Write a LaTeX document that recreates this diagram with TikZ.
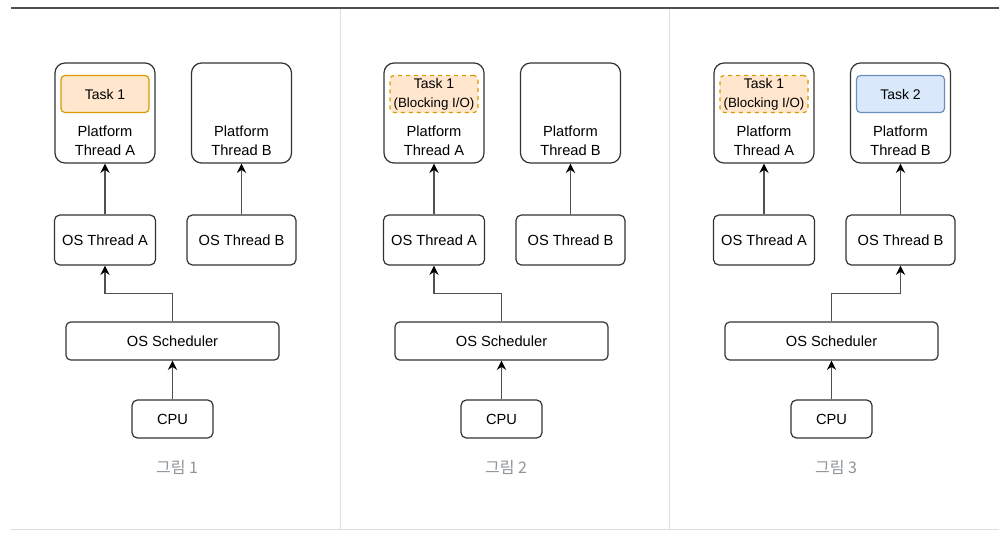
\documentclass[tikz,border=0pt]{standalone}
\usepackage{fontspec}
\setmainfont{Liberation Sans}
\newfontfamily\krfont{Noto Sans CJK KR}
\usepackage{tikz}
\usetikzlibrary{positioning,arrows.meta}
\definecolor{taskfill}{HTML}{FFE6CC}
\definecolor{taskdraw}{HTML}{D79B00}
\definecolor{nextfill}{HTML}{DAE8FC}
\definecolor{nextdraw}{HTML}{6C8EBF}
\definecolor{boxdraw}{HTML}{333333}
\definecolor{linedraw}{HTML}{505050}
\definecolor{capgray}{HTML}{8E949A}
\definecolor{rulegray}{HTML}{DDDDDD}
\definecolor{topgray}{HTML}{505050}

\begin{document}
\begin{tikzpicture}[x=0.75pt, y=-0.75pt, font=\fontsize{11}{14.25}\selectfont,
    box/.style={draw=boxdraw, line width=0.9pt, fill=white, inner sep=0pt, align=center},
    platform/.style={box, rounded corners=7.5pt, minimum width=75pt, minimum height=75pt},
    osthread/.style={box, rounded corners=4pt, minimum height=37.5pt},
    sched/.style={box, rounded corners=3.5pt, minimum width=159.75pt, minimum height=28.5pt},
    cpu/.style={box, rounded corners=4pt, minimum width=60.75pt, minimum height=28.5pt},
    task/.style={box, rounded corners=3pt, minimum width=66pt, minimum height=27.75pt,
        font=\fontsize{10.5}{14}\selectfont},
    running/.style={task, draw=taskdraw, fill=taskfill},
    blocked/.style={task, draw=taskdraw, fill=taskfill, dashed},
    waiting/.style={task, draw=nextdraw, fill=nextfill},
    plabel/.style={align=center, inner sep=0pt},
    caption/.style={font=\krfont\fontsize{12}{14}\selectfont, text=capgray}]
    \useasboundingbox (0,0) rectangle (1006,537);

    % frame
    \draw[line width=1.3pt, topgray] (11,8) -- (999,8);
    \draw[line width=0.75pt, rulegray] (11,529) -- (999,529);
    \draw[line width=0.75pt, rulegray] (340,9) -- (340,529);
    \draw[line width=0.75pt, rulegray] (669,9) -- (669,529);

    % 그림 1
    \node[platform] (PA1) at (105,113) {};
    \node[running] (T1) at (105,94) {Task 1};
    \node[plabel] (LA1) at (105,141) {Platform\\Thread A};
    \node[platform] (PB1) at (241.5,113) {};
    \node[plabel] (LB1) at (241.5,141) {Platform\\Thread B};
    \node[osthread, minimum width=75.75pt] (OA1) at (105,240) {OS Thread A};
    \node[osthread, minimum width=81.75pt] (OB1) at (241.5,240) {OS Thread B};
    \node[sched] (S1) at (172.5,341) {OS Scheduler};
    \node[cpu] (C1) at (172.5,419) {CPU};
    \node[caption] (G1) at (177,467) {그림 1};

    % 그림 2
    \node[platform] (PA2) at (434,113) {};
    \node[blocked] (T2) at (434,94) {Task 1\\{\fontsize{10}{11}\selectfont(Blocking I/O)}};
    \node[plabel] (LA2) at (434,141) {Platform\\Thread A};
    \node[platform] (PB2) at (570.5,113) {};
    \node[plabel] (LB2) at (570.5,141) {Platform\\Thread B};
    \node[osthread, minimum width=75.75pt] (OA2) at (434,240) {OS Thread A};
    \node[osthread, minimum width=81.75pt] (OB2) at (570.5,240) {OS Thread B};
    \node[sched] (S2) at (501.5,341) {OS Scheduler};
    \node[cpu] (C2) at (501.5,419) {CPU};
    \node[caption] (G2) at (506,467) {그림 2};

    % 그림 3
    \node[platform] (PA3) at (764,113) {};
    \node[blocked] (T3) at (764,94) {Task 1\\{\fontsize{10}{11}\selectfont(Blocking I/O)}};
    \node[plabel] (LA3) at (764,141) {Platform\\Thread A};
    \node[platform] (PB3) at (900.5,113) {};
    \node[waiting] (T4) at (900.5,94) {Task 2};
    \node[plabel] (LB3) at (900.5,141) {Platform\\Thread B};
    \node[osthread, minimum width=75.75pt] (OA3) at (764,240) {OS Thread A};
    \node[osthread, minimum width=81.75pt] (OB3) at (900.5,240) {OS Thread B};
    \node[sched] (S3) at (831.5,341) {OS Scheduler};
    \node[cpu] (C3) at (831.5,419) {CPU};
    \node[caption] (G3) at (836,467) {그림 3};

    \begin{scope}[>={Stealth[black, length=7pt, width=7pt]},
                  every edge/.style={draw=linedraw, line width=1.1pt}]
        \path [->] (OA1.north) edge (PA1.south);
        \path [->] (OB1.north) edge (PB1.south);
        \path [->] (C1.north) edge (S1.south);
        \path [->] (S1.north) edge [to path={-- ++(0,-28) -| (\tikztotarget)}] (OA1.south);

        \path [->] (OA2.north) edge (PA2.south);
        \path [->] (OB2.north) edge (PB2.south);
        \path [->] (C2.north) edge (S2.south);
        \path [->] (S2.north) edge [to path={-- ++(0,-28) -| (\tikztotarget)}] (OA2.south);

        \path [->] (OA3.north) edge (PA3.south);
        \path [->] (OB3.north) edge (PB3.south);
        \path [->] (C3.north) edge (S3.south);
        \path [->] (S3.north) edge [to path={-- ++(0,-28) -| (\tikztotarget)}] (OB3.south);
    \end{scope}
\end{tikzpicture}
\end{document}
